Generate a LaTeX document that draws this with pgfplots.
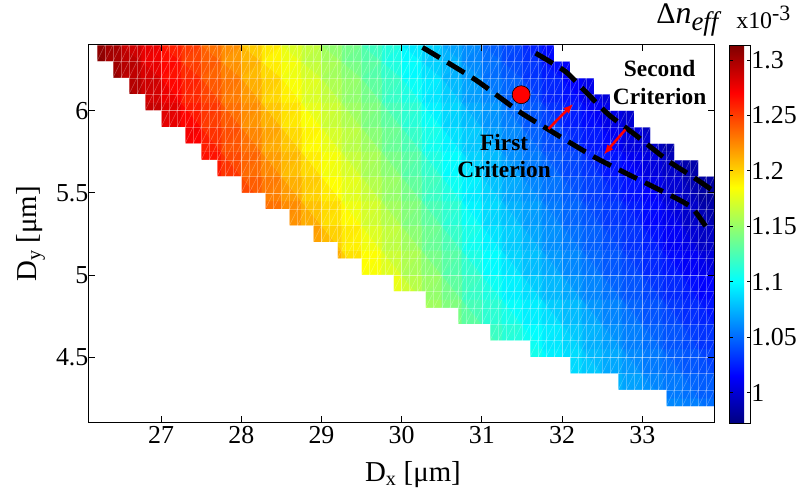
\documentclass[border=0pt]{standalone}
\begin{filecontents*}[overwrite]{conn.dat}
0 1 18
0 18 17
1 2 19
1 19 18
2 3 20
2 20 19
3 4 21
3 21 20
4 5 22
4 22 21
5 6 23
5 23 22
6 7 24
6 24 23
7 8 25
7 25 24
8 9 26
8 26 25
9 10 27
9 27 26
10 11 28
10 28 27
11 12 29
11 29 28
12 13 30
12 30 29
13 14 31
13 31 30
14 15 32
14 32 31
15 16 33
15 33 32
17 18 35
17 35 34
18 19 36
18 36 35
19 20 37
19 37 36
20 21 38
20 38 37
21 22 39
21 39 38
22 23 40
22 40 39
23 24 41
23 41 40
24 25 42
24 42 41
25 26 43
25 43 42
26 27 44
26 44 43
27 28 45
27 45 44
28 29 46
28 46 45
29 30 47
29 47 46
30 31 48
30 48 47
31 32 49
31 49 48
32 33 50
32 50 49
34 35 52
34 52 51
35 36 53
35 53 52
36 37 54
36 54 53
37 38 55
37 55 54
38 39 56
38 56 55
39 40 57
39 57 56
40 41 58
40 58 57
41 42 59
41 59 58
42 43 60
42 60 59
43 44 61
43 61 60
44 45 62
44 62 61
45 46 63
45 63 62
46 47 64
46 64 63
47 48 65
47 65 64
48 49 66
48 66 65
49 50 67
49 67 66
51 52 69
51 69 68
52 53 70
52 70 69
53 54 71
53 71 70
54 55 72
54 72 71
55 56 73
55 73 72
56 57 74
56 74 73
57 58 75
57 75 74
58 59 76
58 76 75
59 60 77
59 77 76
60 61 78
60 78 77
61 62 79
61 79 78
62 63 80
62 80 79
63 64 81
63 81 80
64 65 82
64 82 81
65 66 83
65 83 82
66 67 84
66 84 83
68 69 86
68 86 85
69 70 87
69 87 86
70 71 88
70 88 87
71 72 89
71 89 88
72 73 90
72 90 89
73 74 91
73 91 90
74 75 92
74 92 91
75 76 93
75 93 92
76 77 94
76 94 93
77 78 95
77 95 94
78 79 96
78 96 95
79 80 97
79 97 96
80 81 98
80 98 97
81 82 99
81 99 98
82 83 100
82 100 99
83 84 101
83 101 100
85 86 103
85 103 102
86 87 104
86 104 103
87 88 105
87 105 104
88 89 106
88 106 105
89 90 107
89 107 106
90 91 108
90 108 107
91 92 109
91 109 108
92 93 110
92 110 109
93 94 111
93 111 110
94 95 112
94 112 111
95 96 113
95 113 112
96 97 114
96 114 113
97 98 115
97 115 114
98 99 116
98 116 115
99 100 117
99 117 116
100 101 118
100 118 117
102 103 120
102 120 119
103 104 121
103 121 120
104 105 122
104 122 121
105 106 123
105 123 122
106 107 124
106 124 123
107 108 125
107 125 124
108 109 126
108 126 125
109 110 127
109 127 126
110 111 128
110 128 127
111 112 129
111 129 128
112 113 130
112 130 129
113 114 131
113 131 130
114 115 132
114 132 131
115 116 133
115 133 132
116 117 134
116 134 133
117 118 135
117 135 134
119 120 137
119 137 136
120 121 138
120 138 137
121 122 139
121 139 138
122 123 140
122 140 139
123 124 141
123 141 140
124 125 142
124 142 141
125 126 143
125 143 142
126 127 144
126 144 143
127 128 145
127 145 144
128 129 146
128 146 145
129 130 147
129 147 146
130 131 148
130 148 147
131 132 149
131 149 148
132 133 150
132 150 149
133 134 151
133 151 150
134 135 152
134 152 151
\end{filecontents*}
\usepackage{fontspec}
\setmainfont{Liberation Serif}
\usepackage{pgfplots}
\usepackage{pgfplotstable}
\pgfplotsset{compat=1.18}
\usepgfplotslibrary{patchplots}
\usetikzlibrary{arrows.meta}

\pgfplotstableread{
x y v
26.1 4.1 1.420
26.5 4.1 1.400
27.0 4.1 1.380
27.5 4.1 1.360
28.0 4.1 1.340
28.5 4.1 1.310
29.0 4.1 1.280
29.5 4.1 1.245
30.0 4.1 1.210
30.5 4.1 1.180
31.0 4.1 1.150
31.5 4.1 1.125
32.0 4.1 1.105
32.5 4.1 1.088
33.0 4.1 1.073
33.5 4.1 1.063
33.9 4.1 1.056
26.1 4.4 1.410
26.5 4.4 1.390
27.0 4.4 1.370
27.5 4.4 1.350
28.0 4.4 1.320
28.5 4.4 1.290
29.0 4.4 1.260
29.5 4.4 1.228
30.0 4.4 1.197
30.5 4.4 1.167
31.0 4.4 1.138
31.5 4.4 1.112
32.0 4.4 1.095
32.5 4.4 1.078
33.0 4.4 1.062
33.5 4.4 1.049
33.9 4.4 1.040
26.1 4.7 1.400
26.5 4.7 1.380
27.0 4.7 1.360
27.5 4.7 1.330
28.0 4.7 1.300
28.5 4.7 1.270
29.0 4.7 1.240
29.5 4.7 1.212
30.0 4.7 1.183
30.5 4.7 1.153
31.0 4.7 1.124
31.5 4.7 1.104
32.0 4.7 1.087
32.5 4.7 1.067
33.0 4.7 1.050
33.5 4.7 1.036
33.9 4.7 1.026
26.1 5.0 1.390
26.5 5.0 1.370
27.0 5.0 1.340
27.5 5.0 1.310
28.0 5.0 1.280
28.5 5.0 1.250
29.0 5.0 1.224
29.5 5.0 1.194
30.0 5.0 1.168
30.5 5.0 1.140
31.0 5.0 1.108
31.5 5.0 1.086
32.0 5.0 1.067
32.5 5.0 1.050
33.0 5.0 1.035
33.5 5.0 1.020
33.9 5.0 1.008
26.1 5.3 1.370
26.5 5.3 1.350
27.0 5.3 1.320
27.5 5.3 1.290
28.0 5.3 1.261
28.5 5.3 1.233
29.0 5.3 1.206
29.5 5.3 1.180
30.0 5.3 1.154
30.5 5.3 1.125
31.0 5.3 1.095
31.5 5.3 1.075
32.0 5.3 1.055
32.5 5.3 1.040
33.0 5.3 1.025
33.5 5.3 1.004
33.9 5.3 0.986
26.1 5.6 1.350
26.5 5.6 1.330
27.0 5.6 1.304
27.5 5.6 1.274
28.0 5.6 1.246
28.5 5.6 1.218
29.0 5.6 1.191
29.5 5.6 1.166
30.0 5.6 1.141
30.5 5.6 1.109
31.0 5.6 1.085
31.5 5.6 1.063
32.0 5.6 1.046
32.5 5.6 1.029
33.0 5.6 1.013
33.5 5.6 0.992
33.9 5.6 0.976
26.1 5.9 1.340
26.5 5.9 1.316
27.0 5.9 1.290
27.5 5.9 1.262
28.0 5.9 1.233
28.5 5.9 1.204
29.0 5.9 1.177
29.5 5.9 1.153
30.0 5.9 1.125
30.5 5.9 1.095
31.0 5.9 1.073
31.5 5.9 1.052
32.0 5.9 1.032
32.5 5.9 1.014
33.0 5.9 0.996
33.5 5.9 0.980
33.9 5.9 0.972
26.1 6.2 1.320
26.5 6.2 1.302
27.0 6.2 1.276
27.5 6.2 1.248
28.0 6.2 1.220
28.5 6.2 1.189
29.0 6.2 1.164
29.5 6.2 1.140
30.0 6.2 1.108
30.5 6.2 1.083
31.0 6.2 1.059
31.5 6.2 1.040
32.0 6.2 1.018
32.5 6.2 1.000
33.0 6.2 0.986
33.5 6.2 0.975
33.9 6.2 0.968
26.1 6.4 1.312
26.5 6.4 1.294
27.0 6.4 1.268
27.5 6.4 1.241
28.0 6.4 1.212
28.5 6.4 1.180
29.0 6.4 1.156
29.5 6.4 1.129
30.0 6.4 1.100
30.5 6.4 1.076
31.0 6.4 1.053
31.5 6.4 1.031
32.0 6.4 1.010
32.5 6.4 0.995
33.0 6.4 0.980
33.5 6.4 0.970
33.9 6.4 0.965
}\fielddata

\begin{document}
\begin{tikzpicture}
\begin{axis}[
  set layers, axis on top, clip mode=individual,
  at={(89bp,-45bp)}, anchor=north west,
  scale only axis, width=626.3bp, height=378.3bp,
  xmin=26.1, xmax=33.9, ymin=4.1, ymax=6.4,
  xtick={27,28,29,30,31,32,33}, xticklabels={27,28,29,30,31,32,33},
  ytick={4.5,5,5.5,6}, yticklabels={4.5,5,5.5,6},
  minor xtick={26.2,26.3,...,33.85},
  minor ytick={4.2,4.3,...,6.35},
  grid=both,
  major grid style={white, opacity=0.3, line width=0.5bp},
  minor grid style={white, opacity=0.3, line width=0.5bp},
  minor tick length=0pt, major tick length=6.5bp,
  tick align=inside,
  tick style={black, line width=0.8bp},
  axis line style={black, line width=1bp},
  /pgf/number format/assume math mode=true,
  tick label style={font=\fontsize{26}{28}\selectfont},
  yticklabel style={xshift=3bp},
  xlabel={D\textsubscript{x} [μm]}, ylabel={D\textsubscript{y} [μm]},
  label style={font=\fontsize{29}{31}\selectfont},
  xlabel style={at={(axis description cs:0.518,-0.155)}, anchor=base},
  ylabel style={at={(axis description cs:-0.083,0.5)}, anchor=base},
  colormap/jet,
  point meta min=0.972, point meta max=1.313,
  colorbar,
  colorbar style={
    at={(parent axis.north east)}, anchor=north west, xshift=7bp, yshift=-0.7bp,
    scale only axis, width=21bp, height=378.3bp,
    ytick={1,1.05,1.1,1.15,1.2,1.25,1.3},
    yticklabels={1,1.05,1.1,1.15,1.2,1.25,1.3},
    yticklabel style={font=\fontsize{26}{28}\selectfont, xshift=-3bp},
    ytick pos=both, yticklabel pos=right,
    major tick length=3.5bp, tick align=inside,
    tick style={black, line width=0.8bp},
    axis line style={black, line width=1bp},
  },
]
\addplot[patch, patch type=triangle, patch table={conn.dat}, patch refines=2,
  shader=flat mean, point meta=explicit]
  table[x=x, y=y, meta=v] {\fielddata};
% white (no data) regions
\addplot[fill=white, draw=none, forget plot] coordinates {
(26.0,6.5) (26.2,6.5) (26.2,6.3) (26.4,6.3) (26.4,6.2) (26.6,6.2) (26.6,6.1)
(26.8,6.1) (26.8,6.0) (27.0,6.0) (27.0,5.9) (27.3,5.9) (27.3,5.8) (27.5,5.8)
(27.5,5.7) (27.7,5.7) (27.7,5.6) (28.0,5.6) (28.0,5.5) (28.3,5.5) (28.3,5.4)
(28.6,5.4) (28.6,5.3) (28.9,5.3) (28.9,5.2) (29.2,5.2) (29.2,5.1) (29.5,5.1)
(29.5,5.0) (29.9,5.0) (29.9,4.9) (30.3,4.9) (30.3,4.8) (30.7,4.8) (30.7,4.7)
(31.1,4.7) (31.1,4.6) (31.6,4.6) (31.6,4.5) (32.1,4.5) (32.1,4.4) (32.7,4.4)
(32.7,4.3) (33.3,4.3) (33.3,4.2) (34.0,4.2) (34.0,4.0) (26.0,4.0)};
\addplot[fill=white, draw=none, forget plot] coordinates {
(31.9,6.5) (31.9,6.3) (32.1,6.3) (32.1,6.2) (32.4,6.2) (32.4,6.1) (32.6,6.1)
(32.6,6.0) (32.9,6.0) (32.9,5.9) (33.1,5.9) (33.1,5.8) (33.4,5.8) (33.4,5.7)
(33.7,5.7) (33.7,5.6) (34.0,5.6) (34.0,6.5)};
% mesh diagonals
\addplot[white, opacity=0.3, line width=0.5bp, forget plot, empty line=jump] table {
x y
23.7 4.0
26.2 6.5

23.8 4.0
26.3 6.5

23.9 4.0
26.4 6.5

24.0 4.0
26.5 6.5

24.1 4.0
26.6 6.5

24.2 4.0
26.7 6.5

24.3 4.0
26.8 6.5

24.4 4.0
26.9 6.5

24.5 4.0
27.0 6.5

24.6 4.0
27.1 6.5

24.7 4.0
27.2 6.5

24.8 4.0
27.3 6.5

24.9 4.0
27.4 6.5

25.0 4.0
27.5 6.5

25.1 4.0
27.6 6.5

25.2 4.0
27.7 6.5

25.3 4.0
27.8 6.5

25.4 4.0
27.9 6.5

25.5 4.0
28.0 6.5

25.6 4.0
28.1 6.5

25.7 4.0
28.2 6.5

25.8 4.0
28.3 6.5

25.9 4.0
28.4 6.5

26.0 4.0
28.5 6.5

26.1 4.0
28.6 6.5

26.2 4.0
28.7 6.5

26.3 4.0
28.8 6.5

26.4 4.0
28.9 6.5

26.5 4.0
29.0 6.5

26.6 4.0
29.1 6.5

26.7 4.0
29.2 6.5

26.8 4.0
29.3 6.5

26.9 4.0
29.4 6.5

27.0 4.0
29.5 6.5

27.1 4.0
29.6 6.5

27.2 4.0
29.7 6.5

27.3 4.0
29.8 6.5

27.4 4.0
29.9 6.5

27.5 4.0
30.0 6.5

27.6 4.0
30.1 6.5

27.7 4.0
30.2 6.5

27.8 4.0
30.3 6.5

27.9 4.0
30.4 6.5

28.0 4.0
30.5 6.5

28.1 4.0
30.6 6.5

28.2 4.0
30.7 6.5

28.3 4.0
30.8 6.5

28.4 4.0
30.9 6.5

28.5 4.0
31.0 6.5

28.6 4.0
31.1 6.5

28.7 4.0
31.2 6.5

28.8 4.0
31.3 6.5

28.9 4.0
31.4 6.5

29.0 4.0
31.5 6.5

29.1 4.0
31.6 6.5

29.2 4.0
31.7 6.5

29.3 4.0
31.8 6.5

29.4 4.0
31.9 6.5

29.5 4.0
32.0 6.5

29.6 4.0
32.1 6.5

29.7 4.0
32.2 6.5

29.8 4.0
32.3 6.5

29.9 4.0
32.4 6.5

30.0 4.0
32.5 6.5

30.1 4.0
32.6 6.5

30.2 4.0
32.7 6.5

30.3 4.0
32.8 6.5

30.4 4.0
32.9 6.5

30.5 4.0
33.0 6.5

30.6 4.0
33.1 6.5

30.7 4.0
33.2 6.5

30.8 4.0
33.3 6.5

30.9 4.0
33.4 6.5

31.0 4.0
33.5 6.5

31.1 4.0
33.6 6.5

31.2 4.0
33.7 6.5

31.3 4.0
33.8 6.5

31.4 4.0
33.9 6.5

31.5 4.0
34.0 6.5

31.6 4.0
34.1 6.5

31.7 4.0
34.2 6.5

31.8 4.0
34.3 6.5

31.9 4.0
34.4 6.5

32.0 4.0
34.5 6.5

32.1 4.0
34.6 6.5

32.2 4.0
34.7 6.5

32.3 4.0
34.8 6.5

32.4 4.0
34.9 6.5

32.5 4.0
35.0 6.5

32.6 4.0
35.1 6.5

32.7 4.0
35.2 6.5

32.8 4.0
35.3 6.5

32.9 4.0
35.4 6.5

33.0 4.0
35.5 6.5

33.1 4.0
35.6 6.5

33.2 4.0
35.7 6.5

33.3 4.0
35.8 6.5

33.4 4.0
35.9 6.5

33.5 4.0
36.0 6.5

33.6 4.0
36.1 6.5

33.7 4.0
36.2 6.5

33.8 4.0
36.3 6.5
};
% criteria
\addplot[on layer=axis foreground, black, line width=5bp, dash pattern=on 20bp off 9bp, smooth, tension=0.4] coordinates {
(30.26,6.385) (30.92,6.188) (31.46,5.996) (31.83,5.885) (32.42,5.713)
(33.00,5.570) (33.41,5.470) (33.62,5.409) (33.79,5.297)};
\addplot[on layer=axis foreground, black, line width=5bp, dash pattern=on 20bp off 9bp, smooth, tension=0.4] coordinates {
(31.67,6.35) (32.04,6.239) (32.29,6.117) (32.58,5.976) (32.91,5.854)
(33.33,5.692) (33.62,5.601) (33.89,5.51)};
\addplot[on layer=axis foreground, only marks, mark=*, mark size=9bp, mark options={fill=red, draw=black, line width=0.6bp}] coordinates {(31.49,6.097)};
\addplot[on layer=axis foreground, red, line width=2.5bp, -{Latex[length=10bp,width=8bp]}] coordinates {(31.83,5.889) (32.14,6.042)};
\addplot[on layer=axis foreground, red, line width=2.5bp, -{Latex[length=10bp,width=8bp]}] coordinates {(32.79,5.885) (32.52,5.733)};
\begin{pgfonlayer}{axis foreground}
\node[font=\fontsize{23.5}{28}\selectfont\bfseries, align=center] at (axis cs:31.278,5.724) {First\\Criterion};
\node[font=\fontsize{23.5}{28}\selectfont\bfseries, align=center] at (axis cs:33.217,6.173) {Second\\Criterion};
\end{pgfonlayer}
\end{axis}
\node[anchor=base west, inner sep=0pt] at (657bp,-24bp) {\fontsize{30}{32}\selectfont Δ{\fontsize{32}{34}\selectfont\itshape n}\raisebox{-7bp}{\fontsize{27}{29}\selectfont\itshape eff}};
\node[anchor=base west, inner sep=0pt] at (737bp,-29bp) {\fontsize{24}{26}\selectfont x10\raisebox{8bp}{\fontsize{22}{24}\selectfont -3}};
\path (0,0) (800bp,-493bp);
\end{tikzpicture}
\end{document}
